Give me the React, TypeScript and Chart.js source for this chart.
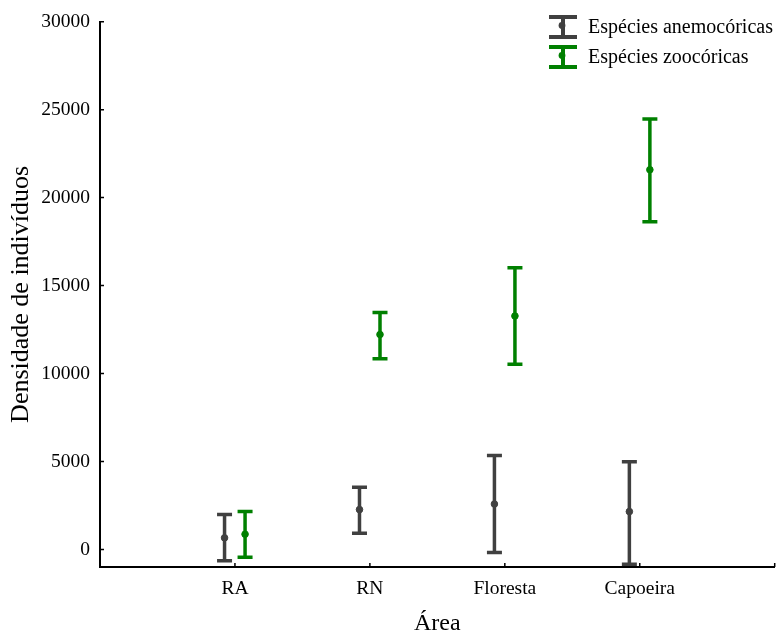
import React, { useEffect, useRef } from "react";
import { Chart, registerables } from "chart.js";

Chart.register(...registerables);

const categories = ["RA", "RN", "Floresta", "Capoeira"];
const anemoMean = [656, 2262, 2580, 2150];
const anemoLow = [-645, 922, -170, -848];
const anemoHigh = [1980, 3540, 5334, 4977];
const zooMean = [865, 12217, 13270, 21584];
const zooLow = [-452, 10837, 10520, 18626];
const zooHigh = [2150, 13462, 16007, 24468];
const yTicks = [0, 5000, 10000, 15000, 20000, 25000, 30000];
const seriesNames = ["Espécies anemocóricas", "Espécies zoocóricas"];

const DARK = "#404040";
const GREEN = "#008000";
const FONT = "'Liberation Serif', 'Times New Roman', serif";

const series = [
  { name: seriesNames[0], mean: anemoMean, low: anemoLow, high: anemoHigh, color: DARK, offset: -0.077 },
  { name: seriesNames[1], mean: zooMean, low: zooLow, high: zooHigh, color: GREEN, offset: 0.075 },
];

const errorBarPlugin = {
  id: "errorBars",
  beforeDatasetsDraw(chart: any) {
    const ctx = chart.ctx;
    const xs = chart.scales.x;
    const ys = chart.scales.y;
    ctx.save();
    series.forEach((s) => {
      ctx.strokeStyle = s.color;
      ctx.lineWidth = 3.5;
      s.mean.forEach((_, i) => {
        const x = xs.getPixelForValue(i + 1 + s.offset);
        const yl = ys.getPixelForValue(s.low[i]);
        const yh = ys.getPixelForValue(s.high[i]);
        ctx.beginPath();
        ctx.moveTo(x, yl);
        ctx.lineTo(x, yh);
        ctx.moveTo(x - 7.5, yl);
        ctx.lineTo(x + 7.5, yl);
        ctx.moveTo(x - 7.5, yh);
        ctx.lineTo(x + 7.5, yh);
        ctx.stroke();
      });
    });
    ctx.restore();
  },
  afterDraw(chart: any) {
    const ctx = chart.ctx;
    const xs = chart.scales.x;
    const ys = chart.scales.y;
    const area = chart.chartArea;
    ctx.save();
    // inward tick marks
    ctx.strokeStyle = "#000";
    ctx.lineWidth = 1.5;
    ctx.beginPath();
    yTicks.forEach((v) => {
      const y = ys.getPixelForValue(v);
      ctx.moveTo(area.left, y);
      ctx.lineTo(area.left + 4, y);
    });
    [1, 2, 3, 4, 5].forEach((v) => {
      const x = xs.getPixelForValue(v);
      ctx.moveTo(x, area.bottom);
      ctx.lineTo(x, area.bottom - 4);
    });
    ctx.stroke();
    // legend
    series.forEach((s, k) => {
      const cx = 563;
      const top = 17 + k * 30;
      const bot = top + 20;
      ctx.strokeStyle = s.color;
      ctx.fillStyle = s.color;
      ctx.lineWidth = 4;
      ctx.beginPath();
      ctx.moveTo(cx, top);
      ctx.lineTo(cx, bot);
      ctx.moveTo(cx - 14, top);
      ctx.lineTo(cx + 14, top);
      ctx.moveTo(cx - 14, bot);
      ctx.lineTo(cx + 14, bot);
      ctx.stroke();
      ctx.beginPath();
      ctx.arc(cx - 1, top + 8.5, 3.4, 0, Math.PI * 2);
      ctx.fill();
      ctx.fillStyle = "#000";
      ctx.font = `20px ${FONT}`;
      ctx.textBaseline = "middle";
      ctx.textAlign = "left";
      ctx.fillText(s.name, 588, top + 10.5);
    });
    ctx.restore();
  },
};

export default function App() {
  const ref = useRef<HTMLCanvasElement | null>(null);
  useEffect(() => {
    document.body.style.margin = "0";
    const canvas = ref.current;
    if (!canvas) return;
    const chart = new Chart(canvas, {
      type: "scatter",
      data: {
        datasets: series.map((s) => ({
          label: s.name,
          data: s.mean.map((m, i) => ({ x: i + 1 + s.offset, y: m })),
          backgroundColor: s.color,
          borderColor: s.color,
          pointRadius: 3.3,
          pointHoverRadius: 3.3,
          showLine: false,
        })),
      },
      options: {
        responsive: false,
        animation: false,
        events: [],
        layout: { padding: { top: 19, right: 3, left: 0, bottom: 0 } },
        plugins: {
          legend: { display: false },
          tooltip: { enabled: false },
        },
        scales: {
          x: {
            type: "linear",
            min: 0,
            max: 5,
            grid: { display: false, drawTicks: false },
            border: { display: true, color: "#000", width: 2 },
            afterBuildTicks: (axis: any) => {
              axis.ticks = categories.map((_, i) => ({ value: i + 1 }));
            },
            afterFit: (axis: any) => {
              axis.height = 75;
            },
            ticks: {
              autoSkip: false,
              maxRotation: 0,
              padding: 10,
              color: "#000",
              font: { family: FONT, size: 19.5 },
              callback: (v: any) => categories[Number(v) - 1] ?? "",
            },
            title: {
              display: true,
              text: "Área",
              color: "#000",
              font: { family: FONT, size: 24 },
              padding: { top: 4, bottom: 4 },
            },
          },
          y: {
            type: "linear",
            min: -1000,
            max: 30000,
            grid: { display: false, drawTicks: false },
            border: { display: true, color: "#000", width: 2 },
            afterBuildTicks: (axis: any) => {
              axis.ticks = yTicks.map((v) => ({ value: v }));
            },
            afterFit: (axis: any) => {
              axis.width = 100;
            },
            ticks: {
              padding: 10,
              color: "#000",
              font: { family: FONT, size: 19.5 },
              callback: (v: any) => String(v),
            },
            title: {
              display: true,
              text: "Densidade de indivíduos",
              color: "#000",
              font: { family: FONT, size: 26 },
              padding: { top: 6, bottom: 4 },
            },
          },
        },
      },
      plugins: [errorBarPlugin],
    });
    return () => chart.destroy();
  }, []);
  return (
    <div style={{ width: 779, height: 642, background: "#fff" }}>
      <canvas ref={ref} width={779} height={642} />
    </div>
  );
}
